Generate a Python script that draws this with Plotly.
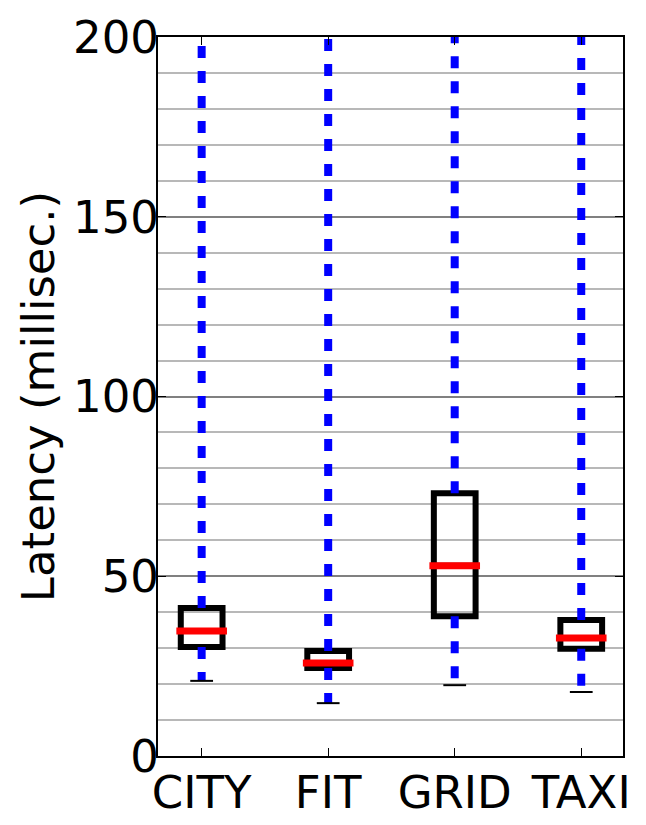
import plotly.graph_objects as go

categories = ["CITY", "FIT", "GRID", "TAXI"]
q1 = [30.3, 24.5, 38.9, 29.8]
median = [34.8, 25.9, 52.9, 32.8]
q3 = [41.2, 29.2, 73.1, 37.8]
lower_whisker = [20.9, 14.7, 19.7, 17.8]
upper_whisker = [260, 260, 260, 260]  # extends beyond the visible 200 limit

positions = [1, 2, 3, 4]
BOX_W = 0.33
MED_HALF = 0.2
CAP_HALF = 0.09

fig = go.Figure()

for i, cat in enumerate(categories):
    x = positions[i]
    fig.add_trace(go.Scatter(x=[x, x], y=[q3[i], upper_whisker[i]], mode="lines",
                             line=dict(color="#0000ff", width=8, dash="12px,13px"),
                             showlegend=False, hoverinfo="skip"))
    fig.add_trace(go.Scatter(x=[x, x], y=[q1[i], lower_whisker[i]], mode="lines",
                             line=dict(color="#0000ff", width=8, dash="12px,13px"),
                             showlegend=False, hoverinfo="skip"))
    fig.add_trace(go.Box(x=[x], q1=[q1[i]], median=[median[i]], q3=[q3[i]],
                         lowerfence=[q1[i]], upperfence=[q3[i]], width=BOX_W,
                         line=dict(color="black", width=6), fillcolor="rgba(0,0,0,0)",
                         whiskerwidth=0, showlegend=False, boxpoints=False, name=cat))
    fig.add_trace(go.Scatter(x=[x - MED_HALF, x + MED_HALF], y=[median[i], median[i]], mode="lines",
                             line=dict(color="#ff0000", width=7),
                             showlegend=False, hoverinfo="skip"))
    fig.add_trace(go.Scatter(x=[x - CAP_HALF, x + CAP_HALF], y=[lower_whisker[i], lower_whisker[i]],
                             mode="lines", line=dict(color="black", width=2),
                             showlegend=False, hoverinfo="skip"))

font = dict(family="DejaVu Sans", size=45, color="black")

fig.update_layout(
    width=646, height=825,
    margin=dict(l=158, r=23, t=37, b=69),
    plot_bgcolor="white", paper_bgcolor="white",
    font=font,
    xaxis=dict(range=[0.655, 4.33], tickmode="array", tickvals=positions, ticktext=categories,
               showgrid=False, zeroline=False, showline=True, linecolor="black", linewidth=2,
               mirror="ticks", ticks="inside", ticklen=8, tickcolor="black", tickwidth=1,
               tickfont=font, automargin=False, ticklabelstandoff=-4),
    yaxis=dict(range=[0, 200], tickmode="linear", tick0=0, dtick=50,
               showgrid=True, gridcolor="#808080", gridwidth=2,
               minor=dict(dtick=10, showgrid=True, gridcolor="#b8b8b8", gridwidth=2),
               zeroline=False, showline=True, linecolor="black", linewidth=2,
               mirror="ticks", ticks="inside", ticklen=8, tickcolor="black", tickwidth=1,
               tickfont=font, automargin=False, ticklabelstandoff=-12,
               title=dict(text="Latency (millisec.)", font=font, standoff=4)),
)

fig.write_html("out.html")
